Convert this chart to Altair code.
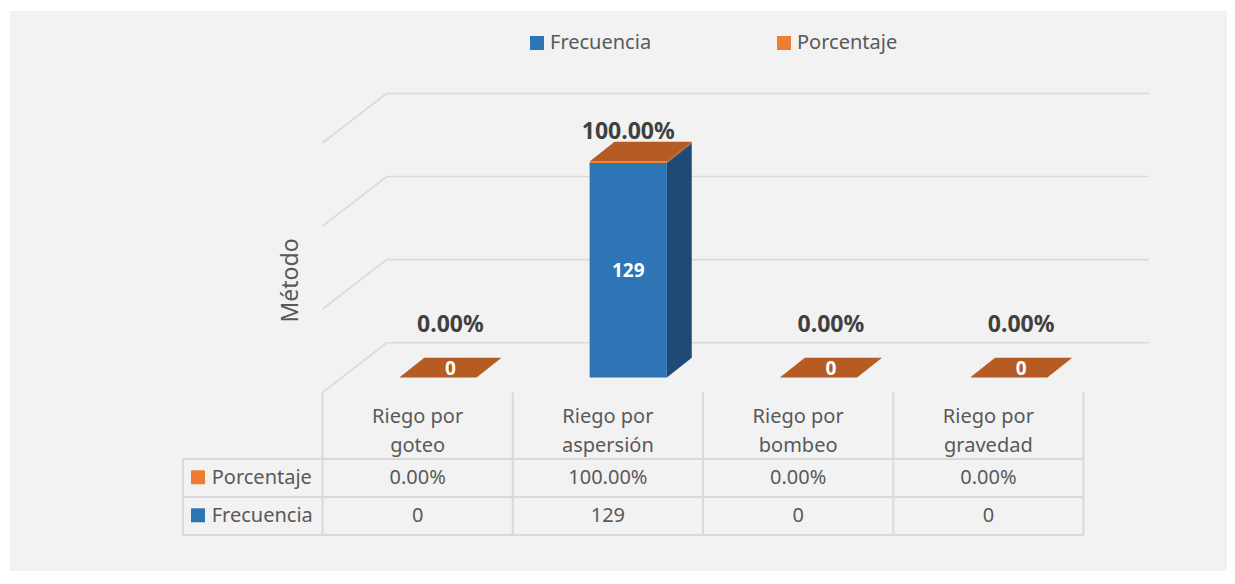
import altair as alt
import pandas as pd

# ---------------- data ----------------
categories = ["Riego por goteo", "Riego por aspersión", "Riego por bombeo", "Riego por gravedad"]
header_labels = ["Riego por\ngoteo", "Riego por\naspersión", "Riego por\nbombeo", "Riego por\ngravedad"]
frecuencia = [0, 129, 0, 0]
porcentaje = [0.0, 1.0, 0.0, 0.0]
series = ["Frecuencia", "Porcentaje"]
grid_values = [0, 50, 100, 150]
y_title = "Método"

# ---------------- styles ----------------
FONT = "Noto Sans"
BLUE, ORANGE = "#2E75B6", "#ED7D31"
BLUE_SIDE, ORANGE_SIDE = "#1F4A76", "#A8561F"
TOP_FACE = "#B45C24"
GRID = "#D9D9D9"
TXT = "#595959"
LBL = "#404040"

# 3D geometry (in scale units)
F0, F1 = 0.404, 0.81          # front face within a category slot
DX, DY = 0.131, 11.9          # bar depth
WALL_X, WALL_Y, FLOOR_Y, WALL_R = 0.3375, 20.9, -8.9, 4.344

n = len(categories)
df = pd.DataFrame({"cat": categories, "header": header_labels, "idx": list(range(n)),
                   series[0]: frecuencia, series[1]: porcentaje})
grid_df = pd.DataFrame({"v": grid_values})
bounds_df = pd.DataFrame({"b": list(range(n + 1))})
series_df = pd.DataFrame({"serie": series})
title_df = pd.DataFrame({"t": [y_title]})

xs = alt.Scale(domain=[0, n], range=[312.5, 1073.5], nice=False, zero=False)
ys = alt.Scale(domain=[0, 150], range=[366.5, 117.2], nice=False, zero=False)

S0, S1 = series
lo_expr = f"datum.serie == '{S0}' ? 0 : datum['{S0}']"
hi_expr = f"datum.serie == '{S0}' ? datum['{S0}'] : datum['{S0}'] + datum['{S1}']"

# ---------------- gridlines (back and left walls) ----------------
grid_diag = alt.Chart(grid_df).transform_calculate(
    xa="0", xb=f"{WALL_X}", ya=f"datum.v + ({FLOOR_Y})", yb=f"datum.v + {WALL_Y}"
).mark_rule(color=GRID, strokeWidth=1.6).encode(
    x=alt.X("xa:Q", scale=xs, axis=None), x2="xb:Q",
    y=alt.Y("ya:Q", scale=ys, axis=None), y2="yb:Q")

grid_back = alt.Chart(grid_df).transform_calculate(
    xa=f"{WALL_X}", xb=f"{WALL_R}", ya=f"datum.v + {WALL_Y}"
).mark_rule(color=GRID, strokeWidth=1.6).encode(
    x=alt.X("xa:Q", scale=xs, axis=None), x2="xb:Q",
    y=alt.Y("ya:Q", scale=ys, axis=None))

# ---------------- 3D bars ----------------
side = alt.Chart(df).transform_fold(series, as_=["serie", "val"]).transform_calculate(
    lo=lo_expr, hi=hi_expr, t="[0, 1]"
).transform_flatten(["t"]).transform_calculate(
    xe=f"datum.idx + {F1} + datum.t * {DX}",
    ylo=f"datum.lo + datum.t * {DY}", yhi=f"datum.hi + datum.t * {DY}"
).mark_area(orient="vertical").encode(
    x=alt.X("xe:Q", scale=xs, axis=None),
    y=alt.Y("ylo:Q", scale=ys, axis=None, stack=None), y2="yhi:Q",
    color=alt.condition(f"datum.serie == '{S0}'", alt.value(BLUE_SIDE), alt.value(ORANGE_SIDE)),
    detail=["cat:N", "serie:N"])

top = alt.Chart(df).transform_calculate(
    tot=f"datum['{S0}'] + datum['{S1}']", t="[0, 1]"
).transform_flatten(["t"]).transform_calculate(
    yt=f"datum.tot + datum.t * {DY}",
    xa=f"datum.idx + {F0} + datum.t * {DX}", xb=f"datum.idx + {F1} + datum.t * {DX}"
).mark_area(orient="horizontal", color=TOP_FACE).encode(
    y=alt.Y("yt:Q", scale=ys, axis=None),
    x=alt.X("xa:Q", scale=xs, axis=None, stack=None), x2="xb:Q",
    detail="cat:N")

front = alt.Chart(df).transform_fold(series, as_=["serie", "val"]).transform_calculate(
    lo=lo_expr, hi=hi_expr, xa=f"datum.idx + {F0}", xb=f"datum.idx + {F1}"
).mark_rect().encode(
    x=alt.X("xa:Q", scale=xs, axis=None), x2="xb:Q",
    y=alt.Y("lo:Q", scale=ys, axis=None), y2="hi:Q",
    color=alt.Color("serie:N", scale=alt.Scale(domain=series, range=[BLUE, ORANGE]),
                    legend=alt.Legend(orient="none", legendX=517, legendY=22, direction="horizontal",
                                      title=None, symbolType="square", symbolSize=196,
                                      symbolStrokeWidth=0, labelFont=FONT, labelFontSize=20,
                                      labelColor=TXT, labelOffset=3, columnPadding=122,
                                      padding=0, offset=0)))

# ---------------- data labels ----------------
freq_lbl = alt.Chart(df).transform_calculate(
    lx=f"datum.idx + {(F0 + F1) / 2} + (datum['{S0}'] == 0 ? {DX / 2} : 0)",
    ly=f"datum['{S0}'] / 2 + (datum['{S0}'] == 0 ? {DY / 2} : 0)"
).mark_text(font=FONT, fontSize=19, fontWeight="bold", color="white", dy=7, baseline="alphabetic").encode(
    x=alt.X("lx:Q", scale=xs, axis=None), y=alt.Y("ly:Q", scale=ys, axis=None),
    text=alt.Text(f"{S0}:Q", format="d"))

pct_lbl_pos = alt.Chart(df).transform_calculate(
    tot=f"datum['{S0}'] + datum['{S1}']"
).transform_filter("datum.tot > 0").transform_calculate(
    lx=f"datum.idx + {(F0 + F1) / 2}", ly=f"datum.tot + {DY}"
).mark_text(font=FONT, fontSize=23, fontWeight="bold", color=LBL, dy=-3, baseline="alphabetic").encode(
    x=alt.X("lx:Q", scale=xs, axis=None), y=alt.Y("ly:Q", scale=ys, axis=None),
    text=alt.Text(f"{S1}:Q", format=".2%"))

pct_lbl_zero = alt.Chart(df).transform_calculate(
    tot=f"datum['{S0}'] + datum['{S1}']"
).transform_filter("datum.tot == 0").transform_calculate(
    lx=f"datum.idx + {(F0 + F1) / 2 + DX / 2}", ly=f"{DY}"
).mark_text(font=FONT, fontSize=23, fontWeight="bold", color=LBL, dy=-26, baseline="alphabetic").encode(
    x=alt.X("lx:Q", scale=xs, axis=None), y=alt.Y("ly:Q", scale=ys, axis=None),
    text=alt.Text(f"{S1}:Q", format=".2%"))

# ---------------- data table ----------------
TBL_LEFT, TBL_TOP, ROW1, ROW2, ROW3 = 173, 381.5, 448, 486, 524

tbl_vert = alt.Chart(bounds_df).mark_rule(color=GRID, strokeWidth=2).encode(
    x=alt.X("b:Q", scale=xs, axis=None), y=alt.value(TBL_TOP), y2=alt.value(ROW3))
tbl_left = alt.Chart(bounds_df).transform_filter("datum.b == 0").mark_rule(color=GRID, strokeWidth=2).encode(
    x=alt.value(TBL_LEFT), y=alt.value(ROW1), y2=alt.value(ROW3))
tbl_h = [alt.Chart(bounds_df).transform_filter(f"datum.b == {n}").mark_rule(color=GRID, strokeWidth=2).encode(
    x=alt.X("b:Q", scale=xs, axis=None), x2=alt.value(TBL_LEFT), y=alt.value(yy)) for yy in (ROW1, ROW2, ROW3)]

header = alt.Chart(df).transform_calculate(mid="datum.idx + 0.5").mark_text(
    font=FONT, fontSize=20, color=TXT, lineBreak="\n", lineHeight=28.5, baseline="alphabetic").encode(
    x=alt.X("mid:Q", scale=xs, axis=None), y=alt.value(412.3), text="header:N")

row_pct = alt.Chart(df).transform_calculate(mid="datum.idx + 0.5").mark_text(
    font=FONT, fontSize=20, color=TXT, baseline="alphabetic").encode(
    x=alt.X("mid:Q", scale=xs, axis=None), y=alt.value(473.3), text=alt.Text(f"{S1}:Q", format=".2%"))
row_freq = alt.Chart(df).transform_calculate(mid="datum.idx + 0.5").mark_text(
    font=FONT, fontSize=20, color=TXT, baseline="alphabetic").encode(
    x=alt.X("mid:Q", scale=xs, axis=None), y=alt.value(511.3), text=alt.Text(f"{S0}:Q", format="d"))

def row_key(name, color, ykey, ytext):
    key = alt.Chart(series_df).transform_filter(f"datum.serie == '{name}'").mark_square(
        size=196, color=color, opacity=1, strokeWidth=0).encode(x=alt.value(188), y=alt.value(ykey))
    txt = alt.Chart(series_df).transform_filter(f"datum.serie == '{name}'").mark_text(
        font=FONT, fontSize=20, color=TXT, align="left", baseline="alphabetic").encode(
        x=alt.value(201.7), y=alt.value(ytext), text="serie:N")
    return key + txt

key_pct = row_key(S1, ORANGE, 466.3, 473.3)
key_freq = row_key(S0, BLUE, 504.3, 511.3)

ytitle = alt.Chart(title_df).mark_text(font=FONT, fontSize=23, color=TXT, angle=270,
                                       baseline="alphabetic", align="center").encode(
    x=alt.value(288), y=alt.value(269.5), text="t:N")

chart = alt.layer(
    grid_diag, grid_back, side, top, front, freq_lbl, pct_lbl_pos, pct_lbl_zero,
    tbl_vert, tbl_left, *tbl_h, header, row_pct, row_freq, key_pct, key_freq, ytitle
).properties(
    width=1217, height=560, autosize="none", background="white",
    padding={"left": 2, "top": 3, "right": 0, "bottom": 0}
).configure_view(fill="#F2F2F2", stroke=None)

chart.save("out.html", embed_options={"renderer": "svg", "actions": False})
